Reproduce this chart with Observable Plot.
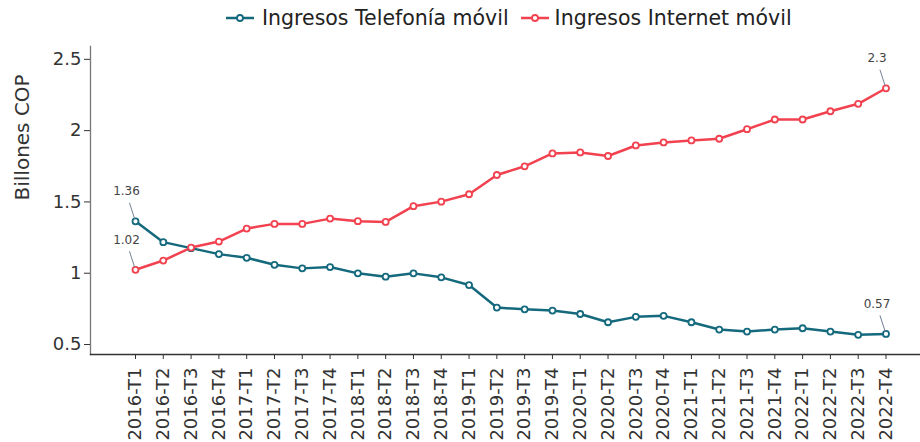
<!DOCTYPE html>
<html><head><meta charset="utf-8">
<script src="https://cdn.jsdelivr.net/npm/d3@7"></script>
<script src="https://cdn.jsdelivr.net/npm/@observablehq/plot@0.6"></script>
<style>
html,body{margin:0;padding:0;background:#fff;overflow:hidden;font-family:"DejaVu Sans",sans-serif}
#legend{height:36px;display:flex;align-items:center;padding-left:226px;font-size:20.5px;color:#222;white-space:nowrap}
#legend .item{display:flex;align-items:center}
#legend svg{display:block}
</style></head><body>
<div id="legend"></div>
<div id="chart"></div>
<script>
const quarters = ["2016-T1","2016-T2","2016-T3","2016-T4","2017-T1","2017-T2","2017-T3","2017-T4",
  "2018-T1","2018-T2","2018-T3","2018-T4","2019-T1","2019-T2","2019-T3","2019-T4",
  "2020-T1","2020-T2","2020-T3","2020-T4","2021-T1","2021-T2","2021-T3","2021-T4",
  "2022-T1","2022-T2","2022-T3","2022-T4"];
const telefonia = [1.364,1.218,1.176,1.134,1.108,1.059,1.034,1.043,
  0.999,0.976,0.999,0.971,0.917,0.759,0.747,0.738,
  0.714,0.656,0.694,0.701,0.656,0.605,0.591,0.605,
  0.614,0.591,0.568,0.574];
const internet = [1.024,1.089,1.180,1.222,1.313,1.346,1.346,1.383,
  1.365,1.360,1.470,1.502,1.554,1.689,1.750,1.840,
  1.847,1.822,1.896,1.917,1.931,1.943,2.010,2.078,
  2.078,2.136,2.188,2.297];
const seriesNames = ["Ingresos Telefonía móvil","Ingresos Internet móvil"];
const seriesColors = ["#14697d","#f2414f"];
const yTicks = [0.5,1,1.5,2,2.5];
const yLabel = "Billones COP";
// labels shown at first and last point of each series
const firstLabels = ["1.36","1.02"];
const lastLabels = ["0.57","2.3"];

const seriesValues = [telefonia, internet];
const data = [];
seriesNames.forEach((s, k) => quarters.forEach((q, i) => data.push({q, v: seriesValues[k][i], s})));
const n = quarters.length;
const annots = [];
seriesNames.forEach((s, k) => {
  annots.push({q: quarters[0], v: seriesValues[k][0], label: firstLabels[k]});
  annots.push({q: quarters[n-1], v: seriesValues[k][n-1], label: lastLabels[k]});
});

// legend
const legend = document.getElementById("legend");
seriesNames.forEach((s, k) => {
  const item = document.createElement("div");
  item.className = "item";
  item.style.marginRight = k === 0 ? "12px" : "0";
  item.innerHTML = `<svg width="28" height="12"><line x1="0" x2="28" y1="6" y2="6" stroke="${seriesColors[k]}" stroke-width="2.5"/><circle cx="14" cy="6" r="3" fill="#fff" stroke="${seriesColors[k]}" stroke-width="1.8"/></svg><span style="margin-left:${k===0?8:6}px">${s}</span>`;
  legend.appendChild(item);
});

const leader = {draw(context, l) { context.moveTo(0, 0); context.lineTo(0, -l); }};

const chart = Plot.plot({
  width: 920,
  height: 406,
  marginTop: 10,
  marginBottom: 88,
  marginLeft: 90,
  marginRight: 0,
  style: {fontFamily: "DejaVu Sans, sans-serif", background: "#fff", overflow: "visible"},
  x: {type: "point", domain: quarters, padding: 0, round: false, insetLeft: 45, insetRight: 34.5},
  y: {domain: [0.43, 2.59]},
  color: {domain: seriesNames, range: seriesColors},
  marks: [
    Plot.axisY({ticks: yTicks, tickFormat: d3.format("~g"), tickSize: 6, tickPadding: 3, fontSize: 18, color: "#333", label: null}),
    Plot.text([yLabel], {frameAnchor: "left", rotate: -90, dx: -68, fontSize: 20, fill: "#333"}),
    Plot.axisX({tickRotate: -90, tickSize: 5, tickPadding: 8, fontSize: 18, color: "#333", label: null}),
    Plot.frame({anchor: "left", stroke: "#777", strokeWidth: 1.3}),
    Plot.frame({anchor: "bottom", stroke: "#333", strokeWidth: 1.3}),
    Plot.lineY(data, {x: "q", y: "v", stroke: "s", strokeWidth: 2.5}),
    Plot.dot(data, {x: "q", y: "v", stroke: "s", fill: "white", r: 3, strokeWidth: 1.8}),
    Plot.vector(annots, {x: "q", y: "v", rotate: -18, length: 16, anchor: "start", shape: leader, stroke: "#7a8599", strokeWidth: 1, dx: -1, dy: -3}),
    Plot.text(annots, {x: "q", y: "v", text: "label", dx: -9, dy: -30, fontSize: 12, fill: "#444"})
  ]
});
document.getElementById("chart").appendChild(chart);
</script>
</body></html>
